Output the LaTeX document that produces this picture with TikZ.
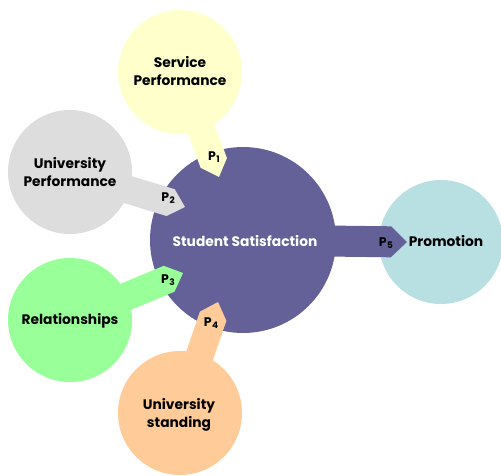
\documentclass[tikz,border=0pt]{standalone}
\usepackage{fontspec}
\setmainfont{Poppins}
\usetikzlibrary{calc}
\pgfdeclarelayer{under}
\pgfsetlayers{under,main}

\definecolor{ssfill}{RGB}{99,97,152}
\definecolor{spfill}{RGB}{255,255,204}
\definecolor{upfill}{RGB}{221,221,221}
\definecolor{refill}{RGB}{153,255,153}
\definecolor{usfill}{RGB}{255,204,153}
\definecolor{prfill}{RGB}{184,224,227}

\tikzset{
  bubble/.style={circle, inner sep=0pt, minimum size=124pt},
  label text/.style={font=\bfseries\fontsize{13.8}{18.5}\selectfont, align=center, text=black},
  pmark/.style={font=\bfseries\fontsize{12.5}{14}\selectfont, inner sep=0pt, text=black}
}

% Pentagon arrow: colour, base, tip, half width, head length
\newcommand\homearrow[5]{%
  \path ($(#3)!#5!(#2)$) coordinate (hs);
  \fill[#1] ($(#2)!#4!90:(#3)$) -- ($(hs)!#4!90:(#3)$) -- (#3)
    -- ($(hs)!#4!-90:(#3)$) -- ($(#2)!#4!-90:(#3)$) -- cycle;
}
\newcommand\psub[1]{P\kern0.5pt\raisebox{-2.5pt}{\fontsize{9}{9}\selectfont #1}}

\begin{document}
\begin{tikzpicture}[x=1pt,y=-1pt]
  \useasboundingbox (0,0) rectangle (501,476);

  % outer topics
  \node[bubble, fill=spfill] (sp) at (180,72) {};
  \node[bubble, fill=upfill] (up) at (70,172) {};
  \node[bubble, fill=refill] (re) at (70,320) {};
  \node[bubble, fill=usfill] (us) at (180,413) {};

  \node[label text] (sptext) at (180,71) {Service\\Performance};
  \node[label text] (uptext) at (70,172) {University\\Performance};
  \node[label text] (retext) at (70,321) {Relationships};
  \node[label text] (ustext) at (179,415) {University\\standing};

  % central topic and outcome
  \begin{pgfonlayer}{under}
    \node[bubble, fill=ssfill, minimum size=186pt] (ss) at (243,240) {};
    \node[bubble, fill=prfill] (pr) at (441,242) {};

    \coordinate (t1) at (219,177);
    \coordinate (t2) at (185,207);
    \coordinate (t3) at (183,273);
    \coordinate (t4) at (218,302);
    \coordinate (t5) at (407,242);

    \homearrow{spfill}{sp.center}{t1}{14pt}{15pt}
    \homearrow{upfill}{up.center}{t2}{14pt}{15pt}
    \homearrow{refill}{re.center}{t3}{14pt}{15pt}
    \homearrow{usfill}{us.center}{t4}{14pt}{15pt}
    \homearrow{ssfill}{ss.center}{t5}{15.5pt}{16pt}
  \end{pgfonlayer}

  \node[label text, text=white] (sstext) at (245,241) {Student Satisfaction};
  \node[label text] (prtext) at (446,241) {Promotion};

  \node[pmark] (p1) at (214,157) {\psub{1}};
  \node[pmark] (p2) at (168,198) {\psub{2}};
  \node[pmark] (p3) at (168,280) {\psub{3}};
  \node[pmark] (p4) at (211,323) {\psub{4}};
  \node[pmark] (p5) at (386,243) {\psub{5}};
\end{tikzpicture}
\end{document}
